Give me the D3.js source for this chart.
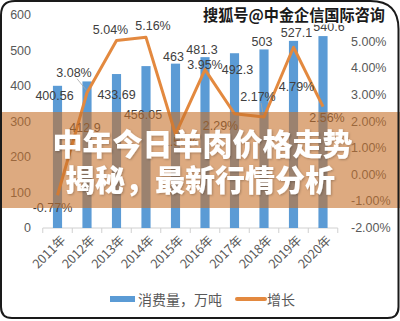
<!DOCTYPE html>
<html><head><meta charset="utf-8">
<script src="https://cdn.jsdelivr.net/npm/d3@7"></script>
<style>html,body{margin:0;padding:0;background:#fff;}svg{display:block;}</style>
</head><body>
<script>
// ---- data ----
const years = ['2011年','2012年','2013年','2014年','2015年','2016年','2017年','2018年','2019年','2020年'];
const consumption = [400.56, 412.9, 433.69, 456.05, 463, 481.3, 492.3, 503, 527.1, 540.6];
const growth = [-0.77, 3.08, 5.04, 5.16, 1.52, 3.95, 2.29, 2.17, 4.79, 2.56];
const leftTicks = [0, 100, 200, 300, 400, 500, 600];
const rightTicks = [-2, -1, 0, 1, 2, 3, 4, 5];
const seriesNames = ['消费量，万吨', '增长'];
const titleLines = ['中年今日羊肉价格走势', '揭秘，最新行情分析'];
const watermark = '搜狐号@中金企信国际咨询';

// label placement (style config): offsets of label centre from anchor
const barLabelOffset = [[-3,10],[-2,47],[0,21],[-3,49],[-2,-7],[-3,-7],[3,17],[-2,-7],[3,-8],[6,-9]];
const growthLabelOffset = [[-5,13],[-13,-20],[-6,-11],[7,-11],[5,8],[0,-5],[-14,12],[-6,-20],[3,40],[4,11]];
const leaderIdx = [1, 7];

const W = 400, H = 321;
const svg = d3.select('body').append('svg').attr('width', W).attr('height', H);

const x = d3.scaleBand().domain(years).range([42.75, 337.75]);
const yL = d3.scaleLinear().domain([0, 600]).range([228, 15]);
const yR = d3.scaleLinear().domain([-2, 6]).range([228, 15]);
const bw = x.bandwidth() * 0.31;
const cx = d => x(d) + x.bandwidth() / 2;

const numFont = '"Liberation Sans", Arial, sans-serif';
const cjkFont = '"Noto Sans CJK SC", sans-serif';

// x axis line & ticks
const xa = svg.append('g');
xa.append('line').attr('x1', x.range()[0]).attr('x2', x.range()[1]).attr('y1', yL(0)).attr('y2', yL(0))
  .attr('stroke', '#d0d0d0').attr('stroke-width', 1);
const bounds = years.map(d => x(d)).concat([x.range()[1]]);
xa.selectAll('.tk').data(bounds).enter().append('line')
  .attr('x1', d => d).attr('x2', d => d).attr('y1', yL(0)).attr('y2', yL(0) + 5)
  .attr('stroke', '#d0d0d0');
xa.selectAll('.xl').data(years).enter().append('text')
  .attr('transform', d => `translate(${cx(d) + 5},${yL(0) + 9}) rotate(-45)`)
  .attr('text-anchor', 'end').attr('dominant-baseline', 'central')
  .attr('font-family', cjkFont).attr('font-size', 12.5).attr('fill', '#595959')
  .text(d => d);

// left axis labels
svg.selectAll('.ll').data(leftTicks).enter().append('text')
  .attr('x', 31).attr('y', d => yL(d)).attr('text-anchor', 'end').attr('dominant-baseline', 'central')
  .attr('font-family', numFont).attr('font-size', 12.5).attr('fill', '#595959').text(d => d);
// right axis labels
svg.selectAll('.rl').data(rightTicks).enter().append('text')
  .attr('x', 351).attr('y', d => yR(d)).attr('dominant-baseline', 'central')
  .attr('font-family', numFont).attr('font-size', 12.5).attr('fill', '#595959')
  .text(d => d.toFixed(2) + '%');

// bars
svg.selectAll('.bar').data(years).enter().append('rect')
  .attr('x', d => cx(d) - bw / 2).attr('width', bw)
  .attr('y', (d, i) => yL(consumption[i])).attr('height', (d, i) => yL(0) - yL(consumption[i]))
  .attr('fill', '#5B9BD5');

// line
const line = d3.line().x((d, i) => cx(years[i])).y(d => yR(d));
svg.append('path').datum(growth).attr('d', line).attr('fill', 'none')
  .attr('stroke', '#E3893F').attr('stroke-width', 3).attr('stroke-linejoin', 'round');

// leader lines
leaderIdx.forEach(i => {
  const px = cx(years[i]), py = yR(growth[i]);
  const lx = px + growthLabelOffset[i][0], ly = py + growthLabelOffset[i][1];
  svg.append('line').attr('x1', lx + 3).attr('y1', ly + 6).attr('x2', px - 1).attr('y2', py - 3)
    .attr('stroke', '#a6a6a6').attr('stroke-width', 0.8);
});

// bar labels
svg.selectAll('.bl').data(consumption).enter().append('text')
  .attr('x', (d, i) => cx(years[i]) + barLabelOffset[i][0])
  .attr('y', (d, i) => yL(d) + barLabelOffset[i][1])
  .attr('text-anchor', 'middle').attr('dominant-baseline', 'central')
  .attr('font-family', numFont).attr('font-size', 12.5).attr('fill', '#404040')
  .text(d => String(d));
// growth labels
svg.selectAll('.gl').data(growth).enter().append('text')
  .attr('x', (d, i) => cx(years[i]) + growthLabelOffset[i][0])
  .attr('y', (d, i) => yR(d) + growthLabelOffset[i][1])
  .attr('text-anchor', 'middle').attr('dominant-baseline', 'central')
  .attr('font-family', numFont).attr('font-size', 12.5).attr('fill', '#404040')
  .text(d => d.toFixed(2) + '%');

// legend
const lg = svg.append('g');
lg.append('rect').attr('x', 110).attr('y', 296).attr('width', 25).attr('height', 6).attr('fill', '#5B9BD5');
lg.append('text').attr('x', 138).attr('y', 299).attr('dominant-baseline', 'central')
  .attr('font-family', cjkFont).attr('font-size', 14).attr('fill', '#595959').text(seriesNames[0]);
lg.append('line').attr('x1', 237).attr('x2', 265).attr('y1', 299).attr('y2', 299)
  .attr('stroke', '#E3893F').attr('stroke-width', 4).attr('stroke-linecap', 'round');
lg.append('text').attr('x', 267).attr('y', 299).attr('dominant-baseline', 'central')
  .attr('font-family', cjkFont).attr('font-size', 14).attr('fill', '#595959').text(seriesNames[1]);

// overlay band
svg.append('rect').attr('x', 0).attr('y', 112).attr('width', W).attr('height', 96)
  .attr('fill', 'rgb(198,113,43)').attr('fill-opacity', 0.6);

// title
const defs = svg.append('defs');
const f = defs.append('filter').attr('id', 'sh').attr('x', '-10%').attr('y', '-20%').attr('width', '120%').attr('height', '140%');
f.append('feDropShadow').attr('dx', 1).attr('dy', 1).attr('stdDeviation', 1).attr('flood-color', '#000').attr('flood-opacity', 0.25);
svg.selectAll('.tt').data(titleLines).enter().append('text')
  .attr('x', (d, i) => i === 0 ? 202.5 : 200).attr('y', (d, i) => i === 0 ? 155 : 190.5)
  .attr('text-anchor', 'middle').attr('font-family', cjkFont).attr('font-weight', 900)
  .attr('font-size', 30).attr('fill', '#fff').attr('filter', 'url(#sh)')
  .text(d => d);

// watermark
svg.append('text').attr('x', 203).attr('y', 21).attr('textLength', 182).attr('lengthAdjust', 'spacingAndGlyphs')
  .attr('font-family', cjkFont).attr('font-weight', 700).attr('font-size', 16)
  .attr('fill', '#1a1a1a').attr('stroke', '#fff').attr('stroke-width', 3).attr('paint-order', 'stroke')
  .text(watermark);

// frame
const rTL = 14, rTR = 28, rBR = 11, rBL = 11, a = 1, b = 1, c = W - 1.5, e = H - 3;
svg.append('path').attr('d',
  `M${a + rTL},${b} L${c - rTR},${b} Q${c},${b} ${c},${b + rTR} L${c},${e - rBR} Q${c},${e} ${c - rBR},${e} ` +
  `L${a + rBL},${e} Q${a},${e} ${a},${e - rBL} L${a},${b + rTL} Q${a},${b} ${a + rTL},${b} Z`)
  .attr('fill', 'none').attr('stroke', '#1a1a1a').attr('stroke-width', 2);
</script>
</body></html>
